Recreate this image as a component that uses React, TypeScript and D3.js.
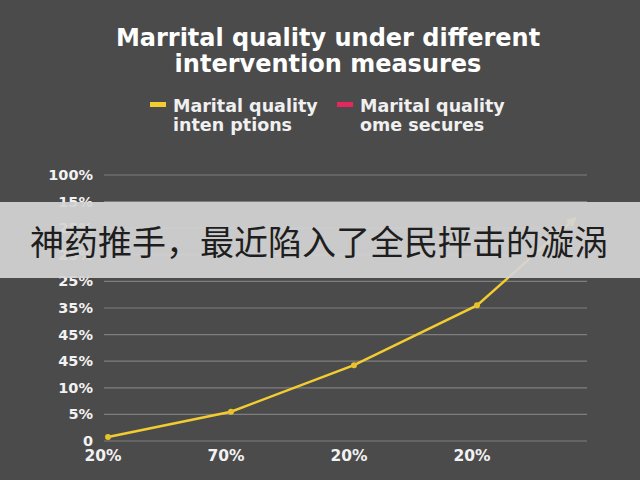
import { useRef, useEffect } from 'react';
import * as d3 from 'd3';

const W = 640;
const H = 480;

// y axis: tick labels as printed, bottom to top
const yTickLabels = ['0', '5%', '10%', '45%', '45%', '35%', '25%', '25%', '25%', '15%', '100%'];
// x axis labels
const xLabels = ['20%', '70%', '20%', '20%'];
// line points (x index, value in tick steps)
const lineX = [0, 1, 2, 3, 3.78];
const lineY = [0.15, 1.1, 2.85, 5.1, 8.3];

const titleLines = ['Marrital quality under different', 'intervention measures'];
const legendLabels = [
  ['Marital quality', 'inten ptions'],
  ['Marital quality', 'ome secures'],
];
const legendColors = ['#f2cc30', '#e4285f'];

const banner = '神药推手，最近陷入了全民抨击的漩涡';

const boldFont = '"DejaVu Sans", Verdana, sans-serif';

export default function App() {
  const ref = useRef<SVGGElement>(null);

  useEffect(() => {
    const g = d3.select(ref.current);
    g.selectAll('*').remove();

    const y = d3.scaleLinear().domain([0, 10]).range([441, 175]);
    const x = d3.scaleLinear().domain([0, 3]).range([108, 477]);

    // grid
    g.append('g')
      .selectAll('line')
      .data(d3.range(yTickLabels.length))
      .join('line')
      .attr('x1', 104)
      .attr('x2', 587)
      .attr('y1', (d) => y(d))
      .attr('y2', (d) => y(d))
      .attr('stroke', '#7e7e7e')
      .attr('stroke-width', 1.2);

    // y labels
    g.append('g')
      .selectAll('text')
      .data(yTickLabels)
      .join('text')
      .attr('x', 93)
      .attr('y', (_, i) => y(i) + 5)
      .attr('text-anchor', 'end')
      .attr('fill', '#f2f2f2')
      .attr('font-size', 14.5)
      .attr('font-weight', 700)
      .attr('font-family', boldFont)
      .text((d) => d);

    // x labels
    g.append('g')
      .selectAll('text')
      .data(xLabels)
      .join('text')
      .attr('x', (_, i) => x(i) - 5)
      .attr('y', 461)
      .attr('text-anchor', 'middle')
      .attr('fill', '#f2f2f2')
      .attr('font-size', 15.5)
      .attr('font-weight', 700)
      .attr('font-family', boldFont)
      .text((d) => d);

    // line
    const pts = lineX.map((v, i) => [x(v), y(lineY[i])] as [number, number]);
    g.append('defs')
      .append('marker')
      .attr('id', 'arrow')
      .attr('viewBox', '0 0 10 10')
      .attr('refX', 5)
      .attr('refY', 5)
      .attr('markerWidth', 4)
      .attr('markerHeight', 4)
      .attr('orient', 'auto')
      .append('path')
      .attr('d', 'M0,0 L10,5 L0,10 z')
      .attr('fill', '#f2cc30');

    g.append('path')
      .attr('d', d3.line()(pts))
      .attr('fill', 'none')
      .attr('stroke', legendColors[0])
      .attr('stroke-width', 2.5)
      .attr('marker-end', 'url(#arrow)');

    g.append('g')
      .selectAll('circle')
      .data(pts.slice(0, 4))
      .join('circle')
      .attr('cx', (d) => d[0])
      .attr('cy', (d) => d[1])
      .attr('r', 3)
      .attr('fill', '#e8c22a');

    // title
    g.append('text')
      .attr('text-anchor', 'middle')
      .attr('fill', '#ffffff')
      .attr('font-size', 24)
      .attr('font-weight', 700)
      .attr('font-family', boldFont)
      .selectAll('tspan')
      .data(titleLines)
      .join('tspan')
      .attr('x', 328)
      .attr('y', (_, i) => 46 + i * 26)
      .text((d) => d);

    // legend
    const lx = [150, 337];
    legendLabels.forEach((lines, i) => {
      g.append('rect')
        .attr('x', lx[i])
        .attr('y', 102)
        .attr('width', 16)
        .attr('height', 5)
        .attr('fill', legendColors[i]);
      g.append('text')
        .attr('fill', '#f0f0f0')
        .attr('font-size', 17.5)
        .attr('font-weight', 700)
        .attr('font-family', boldFont)
        .selectAll('tspan')
        .data(lines)
        .join('tspan')
        .attr('x', lx[i] + 23)
        .attr('y', (_, j) => 112 + j * 19)
        .text((d) => d);
    });

    // banner overlay
    g.append('rect')
      .attr('x', 0)
      .attr('y', 202)
      .attr('width', W)
      .attr('height', 76)
      .attr('fill', '#d4d4d4')
      .attr('opacity', 0.93);
    g.append('text')
      .attr('x', 319)
      .attr('y', 255)
      .attr('text-anchor', 'middle')
      .attr('fill', '#1e1e1e')
      .attr('font-size', 34)
      .attr('font-family', '"Noto Sans CJK SC", sans-serif')
      .text(banner);
  }, []);

  return (
    <svg
      width={W}
      height={H}
      style={{ position: 'fixed', left: 0, top: 0, background: '#4b4b4b' }}
      fontFamily="Inter, 'Open Sans', sans-serif"
    >
      <rect width={W} height={H} fill="#4b4b4b" />
      <g ref={ref}></g>
    </svg>
  );
}
